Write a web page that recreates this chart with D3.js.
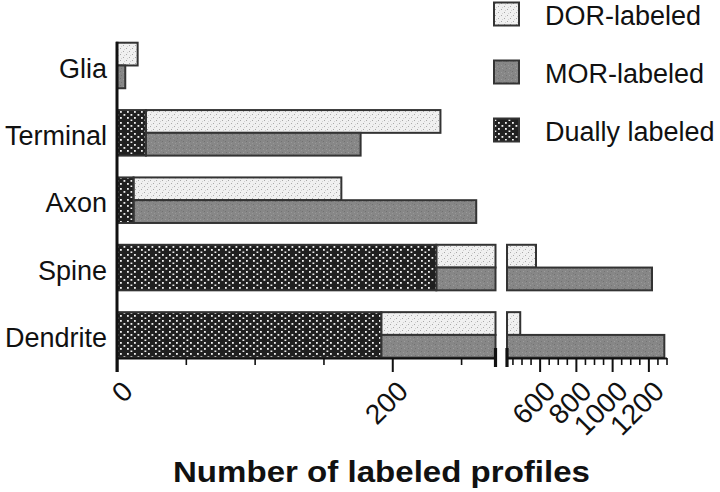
<!DOCTYPE html>
<html><head><meta charset="utf-8">
<script src="https://cdn.jsdelivr.net/npm/d3@7"></script>
<style>body{margin:0;background:#fff} svg{display:block}</style>
</head><body><svg id="c" width="720" height="492"></svg>
<script>
const categories = ["Glia","Terminal","Axon","Spine","Dendrite"];
const duallyLabeled = [0,21,12,232,192];
const dorLabeled = [15,214,151,348,301];
const morLabeled = [6,156,249,988,1096];
const legendNames = ["DOR-labeled","MOR-labeled","Dually labeled"];
const lowTicks = [0,50,100,150,200,250];
const lowLabels = [0,200];
const highTicks = d3.range(450,1301,50);
const highLabels = [600,800,1000,1200];
const axisTitle = "Number of labeled profiles";

const FONT = "'Liberation Sans', Arial, Helvetica, sans-serif";
const svg = d3.select("#c");
const defs = svg.append("defs");

// patterns
const pDor = defs.append("pattern").attr("id","pDor").attr("patternUnits","userSpaceOnUse").attr("width",6).attr("height",6);
pDor.append("rect").attr("width",6).attr("height",6).attr("fill","#f0f0f0");
[[0,0],[3,3],[1,4],[4,1]].forEach(([x,y],i)=>pDor.append("rect").attr("x",x).attr("y",y).attr("width",1).attr("height",1).attr("fill",i<2?"#a8a8a8":"#d2d2d2"));

const pMor = defs.append("pattern").attr("id","pMor").attr("patternUnits","userSpaceOnUse").attr("width",7).attr("height",7);
pMor.append("rect").attr("width",7).attr("height",7).attr("fill","#878787");
[[1,1,"#717171"],[4,2,"#9a9a9a"],[2,5,"#747474"],[5,5,"#9d9d9d"],[6,0,"#7c7c7c"],[0,3,"#969696"]].forEach(([x,y,c])=>pMor.append("rect").attr("x",x).attr("y",y).attr("width",1).attr("height",1).attr("fill",c));

const pDual = defs.append("pattern").attr("id","pDual").attr("patternUnits","userSpaceOnUse").attr("width",14).attr("height",11);
pDual.append("rect").attr("width",14).attr("height",11).attr("fill","#202020");
[[1,1],[8,1],[4.5,4],[11.5,4],[1,7],[8,7],[4.5,9.5]].forEach(([x,y])=>pDual.append("rect").attr("x",x).attr("y",y).attr("width",1.8).attr("height",1.8).attr("fill","#f2f2f2"));

// scales
const y = d3.scaleBand().domain(categories).range([31.8,368.6]).paddingInner(0.324).paddingOuter(0.162);
const x1 = d3.scaleLinear().domain([0,275]).range([117,495.5]);
const x2 = d3.scaleLinear().domain([420,1300]).range([507,666.5]);
const axisY = 358;

const STROKE = "#333";
const bars = svg.append("g");
function segRect(v0, v1, top, h, fill){
  const a = Math.max(v0, x1.domain()[0]), b = Math.min(v1, x1.domain()[1]);
  if (b > a) bars.append("rect").attr("x",x1(a)).attr("y",top).attr("width",x1(b)-x1(a)).attr("height",h)
      .attr("fill",fill).attr("stroke",STROKE).attr("stroke-width",2);
  const c = Math.max(v0, x2.domain()[0]), d = Math.min(v1, x2.domain()[1]);
  if (d > c) bars.append("rect").attr("x",x2(c)).attr("y",top).attr("width",x2(d)-x2(c)).attr("height",h)
      .attr("fill",fill).attr("stroke",STROKE).attr("stroke-width",2);
}
categories.forEach((cat,i)=>{
  const top = y(cat), bw = y.bandwidth(), half = bw/2;
  const du = duallyLabeled[i];
  segRect(du, du+dorLabeled[i], top, half, "url(#pDor)");
  segRect(du, du+morLabeled[i], top+half, half, "url(#pMor)");
  if (du > 0) segRect(0, du, top, bw, "url(#pDual)");
});

// x axes
function drawAxis(scale, ticks, labels){
  const gMinor = svg.append("g").attr("transform",`translate(0,${axisY})`)
    .call(d3.axisBottom(scale).tickValues(ticks.filter(t=>!labels.includes(t))).tickSize(7).tickSizeOuter(0).tickFormat(""));
  gMinor.selectAll(".tick line").attr("stroke","#111").attr("stroke-width",1.6);
  gMinor.select(".domain").attr("stroke","#111").attr("stroke-width",2.2);
  const gMajor = svg.append("g").attr("transform",`translate(0,${axisY})`)
    .call(d3.axisBottom(scale).tickValues(labels).tickSize(14).tickSizeOuter(0).tickFormat(d3.format("d")));
  gMajor.select(".domain").remove();
  gMajor.selectAll(".tick line").attr("stroke","#111").attr("stroke-width",2);
  gMajor.selectAll(".tick text")
    .attr("font-family",FONT).attr("font-size",28).attr("fill","#111")
    .attr("text-anchor","end").attr("dy",0).attr("y",0)
    .attr("transform","translate(17,35) rotate(-45)");
}
drawAxis(x1, lowTicks, lowLabels);
drawAxis(x2, highTicks, highLabels);

// break markers
[x1.range()[1], x2.range()[0]].forEach(bx=>{
  svg.append("line").attr("x1",bx).attr("x2",bx).attr("y1",axisY-10).attr("y2",axisY+9)
    .attr("stroke","#111").attr("stroke-width",3.2);
});

// y axis
const gy = svg.append("g").attr("transform",`translate(117,0)`)
  .call(d3.axisLeft(y).tickSize(0).tickPadding(10));
gy.select(".domain").remove();
gy.selectAll(".tick text").attr("font-family",FONT).attr("font-size",27).attr("fill","#111").attr("dy","0.45em");
svg.append("line").attr("x1",117).attr("x2",117).attr("y1",y(categories[0])-1).attr("y2",axisY+14)
  .attr("stroke","#111").attr("stroke-width",3);

// legend
const legFills = ["url(#pDor)","url(#pMor)","url(#pDual)"];
const lg = svg.append("g");
legendNames.forEach((n,i)=>{
  const cy = 14 + i*58;
  lg.append("rect").attr("x",494).attr("y",cy-11.5).attr("width",25).attr("height",23)
    .attr("fill",legFills[i]).attr("stroke",STROKE).attr("stroke-width",2);
  lg.append("text").attr("x",545).attr("y",cy+11).text(n)
    .attr("font-family",FONT).attr("font-size",27).attr("fill","#111");
});

// axis title
svg.append("text").attr("x",173).attr("y",482).text(axisTitle)
  .attr("font-family",FONT).attr("font-size",30).attr("font-weight","bold").attr("fill","#111")
  .attr("textLength",417).attr("lengthAdjust","spacingAndGlyphs");
</script></body></html>
